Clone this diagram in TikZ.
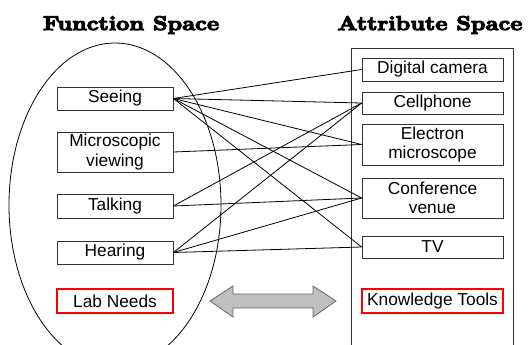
\documentclass[tikz,border=0pt]{standalone}
\usepackage{fontspec}
\setmainfont{Liberation Sans}
\newfontfamily\titlefont{lmroman10-bold.otf}[FakeBold=5]
\begin{document}
\begin{tikzpicture}[x=1pt,y=-1pt,
  box/.style={draw=black!80, line width=0.8pt, fill=white, align=center, inner sep=0pt,
    font=\fontsize{17.3}{19.5}\selectfont},
  lbox/.style={box, minimum width=116pt},
  rbox/.style={box, minimum width=141pt},
  redbox/.style={draw=red, line width=1.6pt},
  conn/.style={line width=0.8pt, draw=black},
  titlestyle/.style={font=\titlefont\fontsize{20}{24}\selectfont, inner sep=0pt}]
\useasboundingbox (0,0) rectangle (530,345);
\fill[white] (0,0) rectangle (530,345);
% titles
\node[titlestyle] (ft) at (131,25) {\scalebox{1.15}[1]{Function Space}};
\node[titlestyle] (at) at (430,25) {\scalebox{1.15}[1]{Attribute Space}};
% containers
\draw[line width=0.8pt] (115,205) ellipse [x radius=106pt, y radius=162pt];
\draw[line width=0.8pt, draw=black!80] (351,48) rectangle (513,352);
% left boxes
\node[lbox, minimum height=23pt] (see) at (115,98.5) {Seeing};
\node[lbox, minimum height=40pt] (mv) at (115,152) {Microscopic\\viewing};
\node[lbox, minimum height=24pt] (talk) at (115,206) {Talking};
\node[lbox, minimum height=23pt] (hear) at (115,252.5) {Hearing};
\node[lbox, redbox, minimum height=24pt] (lab) at (115,301) {Lab Needs};
% right boxes
\node[rbox, minimum height=23pt] (dc) at (432.5,69.5) {Digital camera};
\node[rbox, minimum height=22pt] (cell) at (432.5,103) {Cellphone};
\node[rbox, minimum height=41pt] (em) at (432.5,144.5) {Electron\\microscope};
\node[rbox, minimum height=40pt] (cv) at (432.5,198) {Conference\\venue};
\node[rbox, minimum height=22pt] (tv) at (432.5,247) {TV};
\node[rbox, redbox, minimum height=24pt] (kt) at (432.5,301) {Knowledge Tools};
% connectors
\draw[conn] (see.east) -- (dc.west);
\draw[conn] (see.east) -- (cell.west);
\draw[conn] (see.east) -- (em.west);
\draw[conn] (see.east) -- (cv.west);
\draw[conn] (see.east) -- (tv.west);
\draw[conn] (mv.east) -- (em.west);
\draw[conn] (talk.east) -- (cell.west);
\draw[conn] (talk.east) -- (cv.west);
\draw[conn] (hear.east) -- (cell.west);
\draw[conn] (hear.east) -- (cv.west);
\draw[conn] (hear.east) -- (tv.west);
% double block arrow
\draw[fill=gray!50, draw=black!60, line width=0.8pt]
  (210,301) -- (233,286) -- (233,294) -- (313,294) -- (313,286) -- (336,301)
  -- (313,317) -- (313,308) -- (233,308) -- (233,317) -- cycle;
\end{tikzpicture}
\end{document}
